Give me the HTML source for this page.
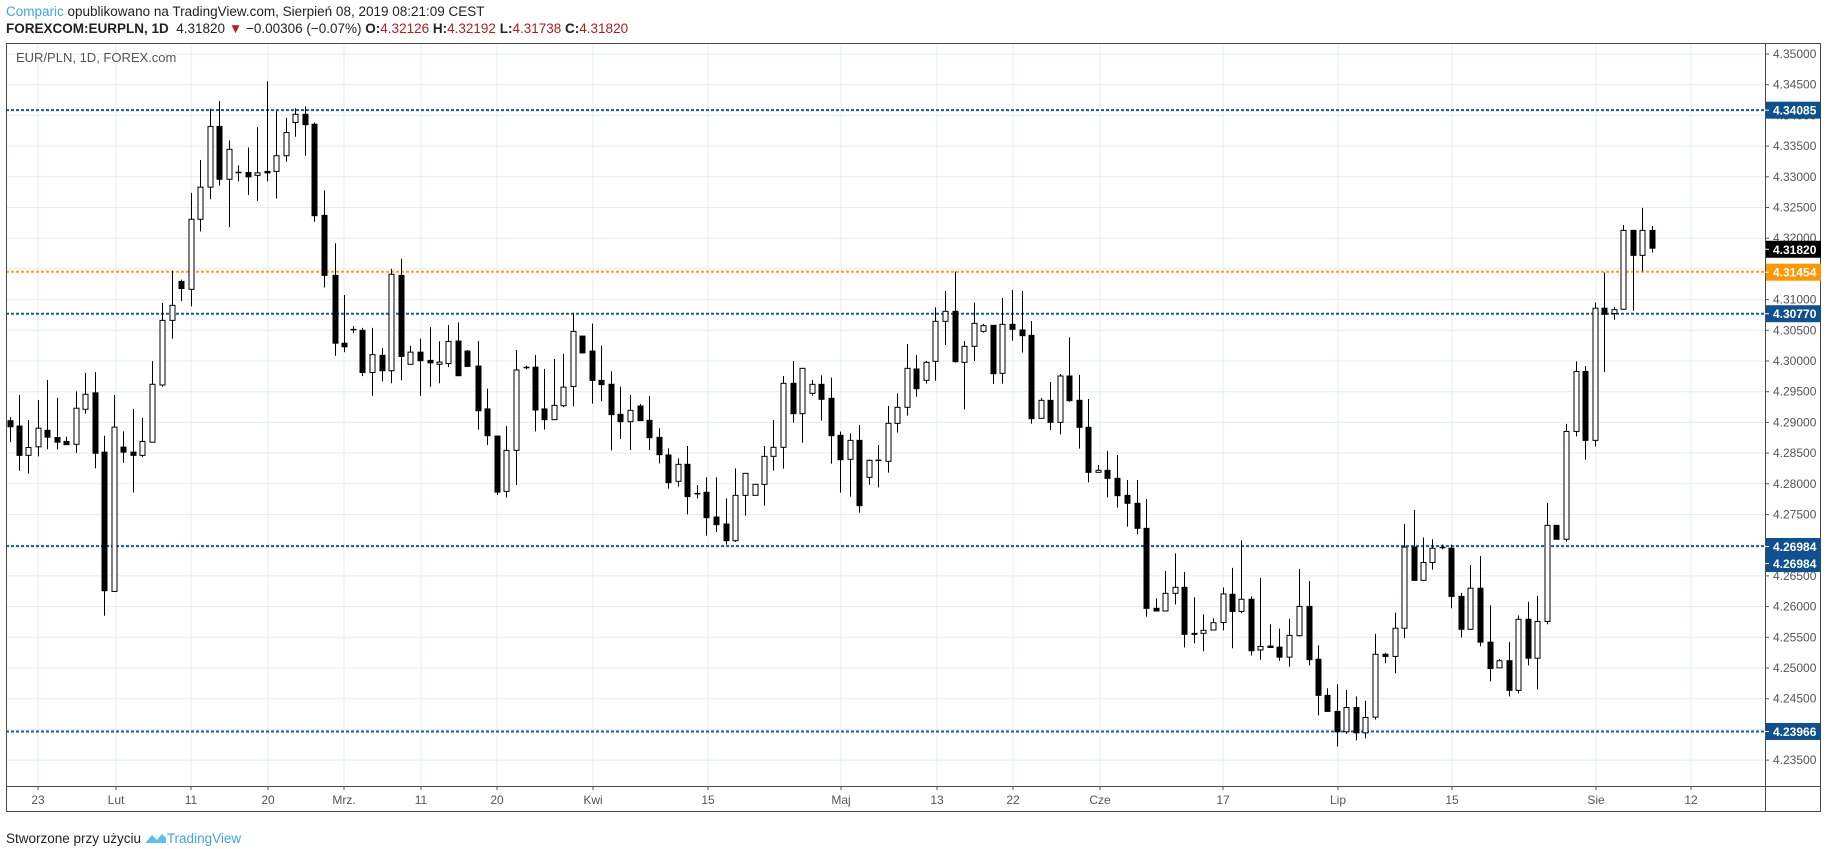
<!DOCTYPE html>
<html><head><meta charset="utf-8">
<style>
html,body{margin:0;padding:0;background:#fff;}
body{width:1828px;height:849px;overflow:hidden;position:relative;font-family:"Liberation Sans",sans-serif;}
.t{position:absolute;white-space:nowrap;}
</style></head>
<body>
<div class="t" style="left:6px;top:4px;font-size:13.5px;color:#222;"><span style="color:#3ea7dc">Comparic</span> opublikowano na TradingView.com, Sierpień 08, 2019 08:21:09 CEST</div>
<div class="t" style="left:6px;top:21px;font-size:13.5px;color:#222;"><b>FOREXCOM:EURPLN, 1D</b>&nbsp; 4.31820 <span style="color:#b71c1c">▼</span> −0.00306 (−0.07%) <b>O:</b><span style="color:#b71c1c">4.32126</span> <b>H:</b><span style="color:#b71c1c">4.32192</span> <b>L:</b><span style="color:#b71c1c">4.31738</span> <b>C:</b><span style="color:#b71c1c">4.31820</span></div>
<svg id="c" width="1828" height="849" style="position:absolute;left:0;top:0" xmlns="http://www.w3.org/2000/svg"></svg>
<div class="t" style="left:6px;top:831px;font-size:13.5px;color:#222;">Stworzone przy użyciu <svg width="22" height="12" style="vertical-align:-1px"><path d="M1 10 L7 3 L12 8 L17 2 L21 6 L21 11 L1 11 Z" fill="#5bc0eb"/></svg><span style="color:#3ea7dc">TradingView</span></div>
<script>
var S=document.getElementById('c'),o='';
function L(x1,y1,x2,y2,c,w,d){o+='<line x1="'+x1+'" y1="'+y1+'" x2="'+x2+'" y2="'+y2+'" stroke="'+c+'" stroke-width="'+(w||1)+'"'+(d?' stroke-dasharray="'+d+'"':'')+'/>';}
function T(x,y,s,c,a,b,sz){o+='<text x="'+x+'" y="'+y+'" fill="'+c+'" font-size="'+(sz||12)+'" font-family="Liberation Sans, sans-serif" text-anchor="'+(a||'start')+'"'+(b?' font-weight="bold"':'')+'>'+s+'</text>';}
function Y(p){return 54+(4.35-p)*6140;}
var PL=6,PR=1765,PT=43,PB=786;
// horizontal grid
for(var k=0;k<=23;k++){var y=54+k*30.7;L(PL,y,PR,y,'#e3ecf2',1);}
var tx=[38,116,191,268,344,421,497,593,708,841,937,1013,1100,1223,1338,1452,1596,1691];
var tl=['23','Lut','11','20','Mrz.','11','20','Kwi','15','Maj','13','22','Cze','17','Lip','15','Sie','12'];
tx.forEach(function(x){L(x,PT,x,PB,'#e3ecf2',1);});
// level lines
function lvl(y,c){L(PL,y,PR,y,c,2,'3 2');}
lvl(Y(4.34085),'#1c5a96');lvl(Y(4.31454),'#ff9f1a');lvl(Y(4.30770),'#1c5a96');lvl(Y(4.26984),'#1c5a96');lvl(Y(4.23966),'#1c5a96');
// candles
var z9=[[25,1010,1027,1000,1070,1],[47,1025,1107,938,1150,1],[71,1085,1107,1008,1158,0],[95,1031,1083,952,1110,0],[120,1037,1056,896,1090,1],[145,1057,1070,946,1090,1],[168,1068,1077,1055,1077,1],[193,975,1076,928,1100,0],[216,936,978,876,990,0],[241,932,1101,874,1143,1],[264,1098,1486,1052,1556,1],[289,1028,1488,938,1488,0],[312,1084,1098,1040,1128,1],[337,1098,1107,977,1211,1],[360,1068,1107,1002,1112,0],[385,908,1070,843,1070,0],[410,729,910,680,915,0],[434,687,729,590,780,0],[458,620,640,615,675,1],[482,446,642,372,690,0],[507,356,446,280,480,0],[530,186,356,136,390,0],[554,186,334,115,352,1],[578,250,334,225,468,0],[603,315,315,295,340,1],[628,315,327,245,378,1],[651,316,323,188,394,0],[676,312,316,60,340,1],[699,268,312,143,388,0],[724,203,268,162,285,0],[747,152,175,135,215,0],[772,152,181,130,268,1],[795,180,436,175,453,1],[820,435,603,365,637,1],[846,603,793,513,828,1],[869,793,803,658,818,1],[894,755,755,745,765,1],[916,757,875,750,885,1],[941,825,875,750,940,0],[965,827,870,806,900,1],[990,600,870,585,905,0],[1013,603,830,557,897,1],[1038,818,852,800,852,0],[1063,818,842,780,940,1],[1087,841,848,748,915,1],[1110,846,852,788,905,0],[1134,788,850,742,860,0],[1159,787,884,735,884,1],[1182,815,858,812,858,1],[1208,857,982,787,1035,1],[1231,977,1052,920,1078,1],[1256,1053,1210,1053,1218,1],[1280,1093,1208,1025,1225,0],[1304,868,1093,812,1190,0],[1329,861,861,856,866,1],[1352,860,980,826,1040,1],[1377,977,1007,865,1035,1],[1400,967,1007,837,1007,0],[1425,916,968,823,972,0],[1448,760,914,708,970,0],[1473,773,820,773,822,1],[1498,815,897,738,962,1],[1521,897,909,800,955,1],[1546,908,993,872,1093,1]];
var z10=[[51,493,515,410,567,1],[76,481,515,435,600,0],[100,468,512,462,512,1],[125,511,563,438,600,1],[148,562,614,535,640,1],[173,615,698,595,716,1],[198,643,694,625,710,0],[221,643,740,588,793,1],[246,731,731,705,745,1],[269,727,803,682,857,1],[294,801,824,682,846,1],[318,822,872,745,884,1],[342,736,872,655,876,0],[366,670,736,670,797,0],[391,703,736,703,736,0],[415,619,703,588,767,0],[438,592,619,510,662,0],[464,400,592,378,656,0],[487,400,491,333,518,1],[511,355,491,355,578,0],[535,403,430,390,437,0],[560,403,448,376,512,1],[583,445,557,383,641,1],[607,556,629,545,728,1],[631,571,628,550,740,0],[656,571,767,525,788,1],[681,631,682,628,704,0],[704,631,631,585,712,1],[729,520,634,468,668,0],[752,472,520,430,548,0],[777,355,472,282,497,0],[800,357,416,315,440,1],[825,337,391,333,401,0],[848,214,334,172,392,0],[873,184,214,123,285,0],[898,184,335,65,338,1],[921,289,337,273,478,0],[946,220,289,158,333,0],[969,227,244,222,248,0],[994,226,371,226,402,1],[1017,223,370,144,401,0],[1042,223,238,120,272,1],[1066,240,257,123,308,1],[1090,256,506,213,521,1],[1115,451,505,444,505,0],[1138,451,517,396,540,1],[1163,378,517,372,553,0],[1187,378,452,262,455,1],[1212,451,532,375,596,1],[1235,532,667,447,697,1],[1260,661,667,645,667,0],[1283,661,685,603,742,1],[1308,685,737,615,773,1],[1333,736,760,690,830,1],[1357,760,835,690,853,1],[1381,835,1075,747,1100,1],[1405,1075,1083,1045,1083,1],[1429,1030,1083,963,1083,0],[1453,1012,1030,910,1063,0],[1477,1012,1153,966,1192,1],[1501,1150,1153,1042,1180,1],[1525,1141,1150,1093,1204,0],[1550,1118,1140,1105,1140,0]];
var z11=[[231,1103,1183,1085,1205,0],[258,1104,1152,1030,1255,1],[284,1118,1152,953,1157,0],[311,1118,1262,1110,1275,1],[337,1250,1260,1058,1287,0],[365,1249,1253,1188,1253,1],[390,1252,1280,1200,1290,1],[418,1219,1280,1173,1307,0],[446,1138,1220,1033,1222,0],[472,1138,1287,1067,1303,1],[499,1286,1387,1247,1443,1],[524,1387,1432,1367,1432,1],[552,1432,1489,1356,1530,1],[577,1421,1489,1372,1495,0],[605,1421,1492,1390,1513,1],[631,1449,1492,1402,1507,0],[659,1272,1448,1215,1455,0],[687,1272,1278,1268,1297,1],[713,1199,1278,1155,1325,0],[740,972,1199,907,1227,0],[766,972,1065,868,1065,1],[793,1015,1065,945,1065,0],[818,975,1015,950,1035,0],[845,973,973,965,978,1],[871,975,1110,965,1143,1],[899,1110,1202,1100,1225,1],[925,1087,1202,1022,1202,0],[953,1087,1238,997,1250,1],[981,1238,1312,1135,1348,1],[1006,1290,1310,1285,1310,0],[1034,1290,1373,1238,1390,1],[1059,1174,1373,1163,1382,0],[1087,1174,1283,1125,1303,1],[1112,1180,1283,1108,1370,0],[1140,911,1180,848,1188,0],[1166,911,950,911,950,1],[1193,648,950,627,957,0],[1221,480,648,452,662,0],[1247,480,673,465,727,1],[1275,303,673,287,690,0],[1300,303,320,203,482,1],[1328,307,318,300,335,0],[1353,85,306,70,306,0],[1381,85,155,85,310,1],[1406,85,155,22,200,0],[1434,85,135,73,147,1]];
function draw(arr,ox,oy,sx,sy){arr.forEach(function(c){
 var x=ox+c[0]/sx,t=oy+c[1]/sy,b=oy+c[2]/sy,h=oy+c[3]/sy,l=oy+c[4]/sy;
 x=Math.round(x)+0.5;
 L(x,h,x,l,'#000',1);
 var hh=Math.max(b-t,1);
 if(c[1]==c[2]){L(x-3,t,x+3,t,'#000',1.5);return;}
 o+='<rect x="'+(x-2.5)+'" y="'+t+'" width="5" height="'+hh+'" fill="'+(c[5]?'#000':'#fff')+'" stroke="#000" stroke-width="1"/>';
});}
draw(z9,0,60,2.529,2.8);draw(z10,600,250,2.529,3);draw(z11,1140,200,2.8,2.8);
// frame
o+='<rect x="6.5" y="43.5" width="1814" height="768" fill="none" stroke="#4a4a4a" stroke-width="1"/>';
L(PR+0.5,43,PR+0.5,812,'#4a4a4a',1);
L(6,PB+0.5,1821,PB+0.5,'#4a4a4a',1);
// price ticks
for(var k=0;k<=23;k++){var p=4.35-k*0.005,y=54+k*30.7;L(PR,y,PR+4,y,'#555',1);T(1773,y+4,p.toFixed(5),'#555');}
// time ticks
tx.forEach(function(x,i){L(x,PB,x,PB+4,'#555',1);T(x,804,tl[i],'#555','middle');});
// price labels
function box(y,txt,bg){o+='<rect x="'+(PR+1)+'" y="'+(y-8.5)+'" width="55" height="17" fill="'+bg+'"/>';L(PR,y,PR+4,y,'#fff',1);T(1773,y+4.5,txt,'#fff','start',true);}
box(Y(4.34085),'4.34085','#0f5190');
box(Y(4.31820),'4.31820','#000');
box(Y(4.31454)+0.5,'4.31454','#ff9800');
box(Y(4.30770),'4.30770','#0f5190');
box(546.5,'4.26984','#0f5190');
box(563.5,'4.26984','#0f5190');
box(Y(4.23966),'4.23966','#0f5190');
// legend
T(16,62,'EUR/PLN, 1D, FOREX.com','#555','start',false,13);
S.innerHTML=o;
</script>
</body></html>
